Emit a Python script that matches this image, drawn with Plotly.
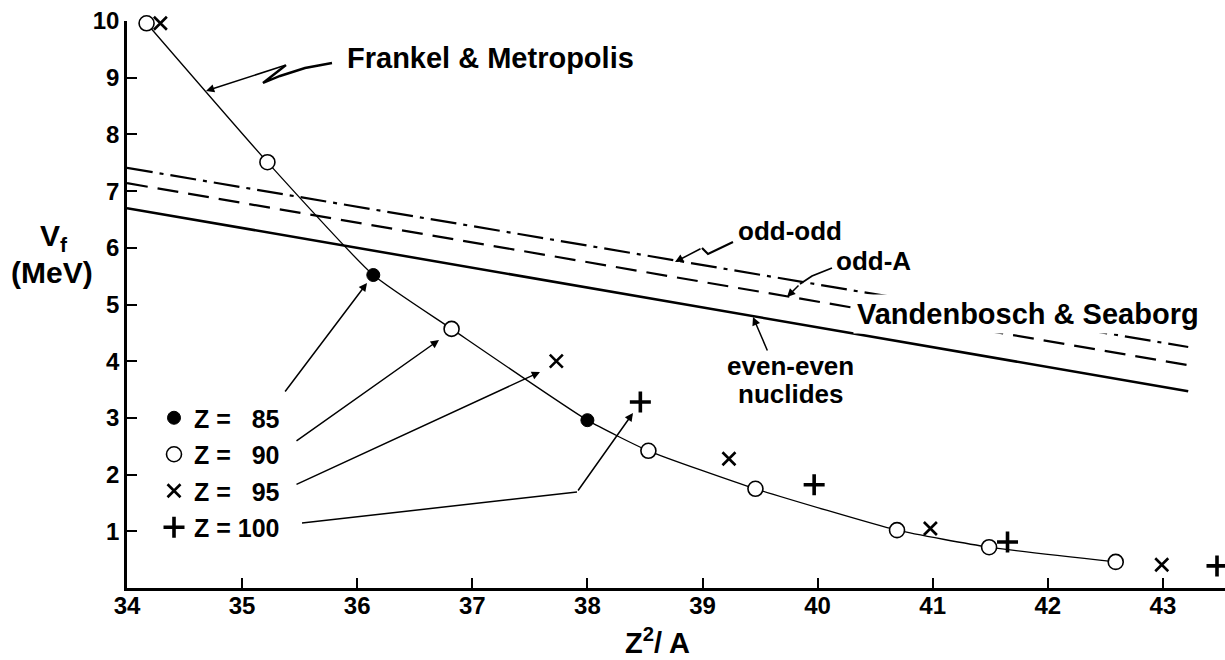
import plotly.graph_objects as go

# ---------------- data ----------------
z85_x = [36.14, 38.00]
z85_y = [5.52, 2.96]

z90_x = [34.17, 35.22, 36.82, 38.53, 39.46, 40.69, 41.49, 42.59]
z90_y = [9.96, 7.51, 4.57, 2.42, 1.75, 1.02, 0.72, 0.46]

z95_x = [34.29, 37.73, 39.23, 40.98, 42.99]
z95_y = [9.96, 4.00, 2.28, 1.05, 0.41]

z100_x = [38.46, 39.97, 41.65, 43.47]
z100_y = [3.28, 1.82, 0.81, 0.39]

# Frankel & Metropolis curve (through the Z=85 / Z=90 points)
fm_x = [34.17, 35.22, 36.14, 36.82, 38.00, 38.53, 39.46, 40.69, 41.49, 42.59]
fm_y = [9.96, 7.51, 5.52, 4.57, 2.96, 2.42, 1.75, 1.02, 0.72, 0.46]

# Vandenbosch & Seaborg straight lines
vs_x = [34.0, 43.22]
even_even_y = [6.70, 3.47]
odd_a_y = [7.14, 3.93]
odd_odd_y = [7.41, 4.25]

x_ticks = [34, 35, 36, 37, 38, 39, 40, 41, 42, 43]
y_ticks = [1, 2, 3, 4, 5, 6, 7, 8, 9, 10]

# ---------------- layout geometry ----------------
W, H = 1225, 660
L, R, T, B = 127, 0, 21, 72
X0, XPX = 34.0, 115.1
XMAX = X0 + (W - L - R) / XPX
YMAX = 10.0
YPX = (H - T - B) / YMAX
BASE = H - B


def X(px):
    return X0 + (px - L) / XPX


def Y(py):
    return (BASE - py) / YPX


def PX(px):
    return (px - L) / (W - L - R)


def PY(py):
    return (BASE - py) / (H - T - B)


FONT = "Liberation Sans"
BLACK = "black"

fig = go.Figure()

# Vandenbosch & Seaborg lines
fig.add_trace(go.Scatter(x=vs_x, y=even_even_y, mode="lines",
                         line=dict(color=BLACK, width=2.5), showlegend=False, hoverinfo="skip"))
fig.add_trace(go.Scatter(x=vs_x, y=odd_a_y, mode="lines",
                         line=dict(color=BLACK, width=2.2, dash="21px,10px"), showlegend=False, hoverinfo="skip"))
fig.add_trace(go.Scatter(x=vs_x, y=odd_odd_y, mode="lines",
                         line=dict(color=BLACK, width=2.2, dash="26px,7px,4px,7px"), showlegend=False, hoverinfo="skip"))

# Frankel & Metropolis curve
fig.add_trace(go.Scatter(x=fm_x, y=fm_y, mode="lines", line=dict(color=BLACK, width=1.3, shape="spline", smoothing=0.5),
                         showlegend=False, hoverinfo="skip"))

NB = "\u00a0"
fig.add_trace(go.Scatter(x=z85_x, y=z85_y, mode="markers", name="Z =" + NB * 3 + "85", legendgroup="a",
                         marker=dict(symbol="circle", size=13, color=BLACK, line=dict(color=BLACK, width=1))))
fig.add_trace(go.Scatter(x=z90_x, y=z90_y, mode="markers", name="Z =" + NB * 3 + "90", legendgroup="b",
                         marker=dict(symbol="circle", size=15, color="white", line=dict(color=BLACK, width=1.6))))
fig.add_trace(go.Scatter(x=z95_x, y=z95_y, mode="markers", name="Z =" + NB * 3 + "95", legendgroup="c",
                         marker=dict(symbol="x-thin-open", size=13, color=BLACK, line=dict(color=BLACK, width=2.6))))
fig.add_trace(go.Scatter(x=z100_x, y=z100_y, mode="markers", name="Z = 100", legendgroup="d",
                         marker=dict(symbol="cross-thin-open", size=15, color=BLACK, line=dict(color=BLACK, width=3.6))))

for tr in fig.data:
    tr.cliponaxis = False

annotations = []


def text(px, py, s, size, xanchor="center", bg=None, pad=1):
    d = dict(x=PX(px), y=PY(py), xref="paper", yref="paper", text=s, showarrow=False,
             xanchor=xanchor, yanchor="middle",
             font=dict(family=FONT, size=size, color=BLACK, weight="bold"))
    if bg:
        d.update(bgcolor=bg, borderpad=pad)
    annotations.append(d)


def arrow(tail, tip, width=1.5):
    annotations.append(dict(x=X(tip[0]), y=Y(tip[1]), xref="x", yref="y",
                            ax=X(tail[0]), ay=Y(tail[1]), axref="x", ayref="y",
                            text="", showarrow=True, arrowhead=2, arrowsize=1.1,
                            arrowwidth=width, arrowcolor=BLACK, standoff=0, startstandoff=0))


shapes = []


def poly(points, width=1.8):
    path = "M " + " L ".join(f"{X(p[0])},{Y(p[1])}" for p in points)
    shapes.append(dict(type="path", path=path, xref="x", yref="y",
                       line=dict(color=BLACK, width=width)))


# labels
text(490, 58, "Frankel & Metropolis", 29)
text(1028, 314, "Vandenbosch & Seaborg", 29, bg="white", pad=3)
text(790, 231, "odd-odd", 26)
text(873, 261, "odd-A", 26)
text(790, 366, "even-even", 26)
text(790, 394, "nuclides", 26)

# Frankel arrow with squiggle
poly([(332, 63), (305, 68), (280, 76), (263, 83), (286, 65)], width=2.4)
arrow((286, 65), (206, 91))
# odd-odd arrow
poly([(733, 242), (708, 254), (702, 248)], width=2.2)
arrow((702, 248), (675, 262))
# odd-A arrow
poly([(832, 268), (812, 276), (800, 284)], width=1.8)
arrow((800, 284), (787, 297))
# even-even arrow
arrow((768, 352), (753, 317))

# legend pointers
arrow((284, 393), (367, 283))
arrow((295, 442), (439, 340))
arrow((295, 485), (540, 372))
poly([(302, 523), (577, 492)], width=1.5)
arrow((577, 492), (633, 413))

# axis titles
text(657, 641, "Z<sup>2</sup>/ A", 29)
text(54, 237, "V<sub>f</sub>", 30)
text(52, 272, "(MeV)", 30)

fig.update_layout(
    width=W, height=H,
    margin=dict(l=L, r=R, t=T, b=B, pad=0),
    paper_bgcolor="white", plot_bgcolor="white",
    font=dict(family=FONT, color=BLACK, size=24, weight="bold"),
    annotations=annotations, shapes=shapes,
    showlegend=True,
    legend=dict(x=PX(154), y=PY(395), xanchor="left", yanchor="top",
                bgcolor="rgba(0,0,0,0)", font=dict(family=FONT, size=25, color=BLACK, weight="bold"),
                tracegroupgap=1, itemwidth=30),
    xaxis=dict(range=[X0, XMAX], tickvals=x_ticks, ticktext=[str(v) for v in x_ticks],
               showline=True, linecolor=BLACK, linewidth=2.5, ticks="inside", ticklen=10,
               tickwidth=2.2, tickcolor=BLACK, showgrid=False, zeroline=False,
               tickfont=dict(family=FONT, size=24, color=BLACK, weight="bold"), ticklabelstandoff=-6),
    yaxis=dict(range=[0, YMAX], tickvals=y_ticks, ticktext=[str(v) for v in y_ticks],
               showline=True, linecolor=BLACK, linewidth=2.5, ticks="inside", ticklen=10,
               tickwidth=2.2, tickcolor=BLACK, showgrid=False, zeroline=False,
               tickfont=dict(family=FONT, size=24, color=BLACK, weight="bold"), ticklabelstandoff=0),
)

fig.write_html("out.html")
